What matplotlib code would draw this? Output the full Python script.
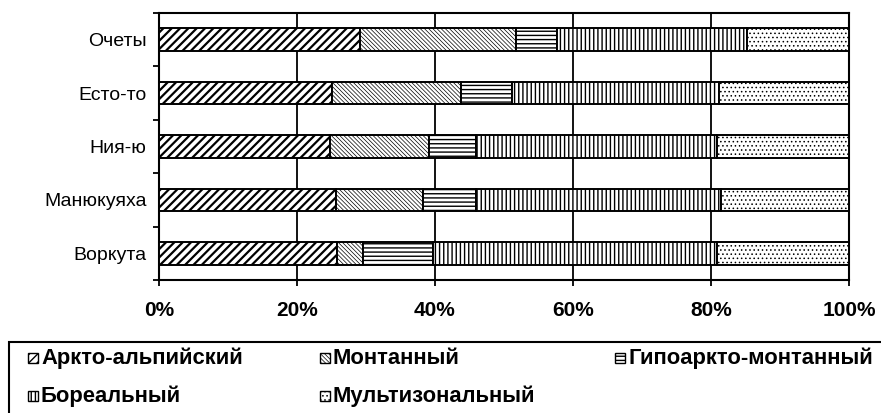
import matplotlib
matplotlib.use("Agg")
import matplotlib.pyplot as plt
from matplotlib.patches import Rectangle
from matplotlib.ticker import FuncFormatter

plt.rcParams['font.family'] = ['Liberation Sans', 'DejaVu Sans']

sites = ['Воркута', 'Манюкуяха', 'Ния-ю', 'Есто-то', 'Очеты']
arkto = [25.8, 25.6, 24.8, 25.0, 29.2]
montan = [3.7, 12.6, 14.4, 18.8, 22.5]
gipo = [10.2, 7.8, 6.7, 7.3, 6.0]
boreal = [41.1, 35.4, 34.9, 30.1, 27.5]
multi = [19.2, 18.6, 19.2, 18.8, 14.8]

series_names = ['Аркто-альпийский', 'Монтанный', 'Гипоаркто-монтанный',
                'Бореальный', 'Мультизональный']
series = [arkto, montan, gipo, boreal, multi]
hatches = ['////', '\\\\\\\\\\\\\\\\', '----', '||||', '....']
hatch_lw = [1.6, 0.5, 1.0, 1.0, 0.6]
xticks = [0, 20, 40, 60, 80, 100]

W, H = 881, 413
fig = plt.figure(figsize=(W / 100, H / 100), dpi=100)
ax = fig.add_axes([159 / W, 1 - 280 / H, (849 - 159) / W, (280 - 13) / H])

ypos = list(range(len(sites)))
left = [0.0] * len(sites)
for vals, hname, hl in zip(series, hatches, hatch_lw):
    bars = ax.barh(ypos, vals, left=left, height=0.42, color='white',
                   edgecolor='black', linewidth=1.4, hatch=hname, zorder=3)
    for b in bars:
        if hasattr(b, 'set_hatch_linewidth'):
            b.set_hatch_linewidth(hl)
    left = [l + v for l, v in zip(left, vals)]

ax.set_xlim(0, 100)
ax.set_ylim(-0.5, len(sites) - 0.5)
ax.set_xticks(xticks)
ax.xaxis.set_major_formatter(FuncFormatter(lambda v, p: f'{int(v)}%'))
ax.tick_params(axis='x', direction='out', length=4, width=1.3, pad=11,
               labelsize=15)
for lab in ax.get_xticklabels():
    lab.set_fontweight('bold')
ax.set_yticks(ypos)
ax.set_yticklabels(sites)
ax.tick_params(axis='y', which='major', length=0, pad=9, labelsize=14)
ax.set_yticks([i - 0.5 for i in range(len(sites) + 1)], minor=True)
ax.tick_params(axis='y', which='minor', direction='out', length=4, width=1.3)
ax.grid(axis='x', color='black', linewidth=1.3, zorder=0)
ax.set_axisbelow(True)
for s in ax.spines.values():
    s.set_linewidth(1.5)
    s.set_color('black')


def fx(x):
    return x / W


def fy(y):
    return 1 - y / H


# legend box (cut off at right and bottom as in the reference)
fig.add_artist(Rectangle((fx(9), fy(430)), fx(900) - fx(9), fy(342) - fy(430),
                         transform=fig.transFigure, facecolor='none',
                         edgecolor='black', linewidth=1.5, clip_on=False))

leg_pos = [(28, 358), (320, 358), (615, 358), (28, 396), (320, 396)]
for (x, y), name, hname, hl in zip(leg_pos, series_names, hatches, hatch_lw):
    r = Rectangle((fx(x), fy(y + 5)), fx(10), 10 / H, transform=fig.transFigure,
                  facecolor='white', edgecolor='black', linewidth=1.0,
                  hatch=hname)
    if hasattr(r, 'set_hatch_linewidth'):
        r.set_hatch_linewidth(min(hl, 1.0))
    fig.add_artist(r)
    fig.text(fx(x + 13), fy(y), name, fontsize=15.8, fontweight='bold',
             va='center', ha='left')

fig.savefig('out.png', dpi=100)
